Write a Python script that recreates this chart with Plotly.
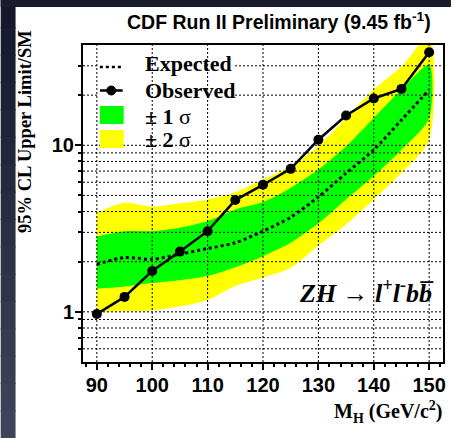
import math
import plotly.graph_objects as go

# ---------------- data ----------------
mass = [90, 95, 100, 105, 110, 115, 120, 125, 130, 135, 140, 145, 150]
observed = [0.97, 1.23, 1.76, 2.30, 3.05, 4.69, 5.79, 7.22, 10.8, 15.1, 19.1, 21.8, 36.2]
expected = [1.93, 2.12, 2.07, 2.22, 2.40, 2.60, 3.05, 3.70, 4.90, 6.80, 9.40, 14.2, 21.5]
sig1_up = [2.83, 3.05, 3.05, 3.20, 3.51, 4.12, 4.56, 5.56, 7.15, 9.87, 14.6, 21.6, 30.4]
sig1_dn = [1.38, 1.42, 1.49, 1.55, 1.64, 1.85, 2.16, 2.60, 3.40, 4.73, 6.53, 9.40, 14.6]
sig2_up = [3.94, 4.52, 4.28, 4.48, 4.73, 5.23, 6.23, 7.48, 9.90, 14.6, 21.6, 29.7, 45.0]
sig2_dn = [1.00, 1.01, 1.02, 1.08, 1.18, 1.43, 1.61, 1.84, 2.50, 3.35, 4.73, 6.84, 10.8]

x_ticks = [90, 100, 110, 120, 130, 140, 150]
y_ticks = [1, 10]
y_ticklabels = ["1", "10"]
y_minor = [0.6, 0.7, 0.8, 0.9, 2, 3, 4, 5, 6, 7, 8, 9, 20, 30]

# ---------------- geometry ----------------
W, H = 454, 438
L, R, T, B = 83, 8, 45, 76
PW, PH = W - L - R, H - T - B
XR = [87.5, 152.5]
YR = [math.log10(0.5), math.log10(40.0)]


def px(xp):
    return (xp - L) / PW


def py(yp):
    return (H - B - yp) / PH


def xfrac(v):
    return (v - XR[0]) / (XR[1] - XR[0])


def yfrac(v):
    return (math.log10(v) - YR[0]) / (YR[1] - YR[0])


SERIF = "Liberation Serif"
SANS = "Liberation Sans"

fig = go.Figure()

fig.add_trace(go.Scatter(
    x=mass + mass[::-1], y=sig2_up + sig2_dn[::-1],
    fill="toself", fillcolor="#ffff00", mode="lines",
    line=dict(width=0, shape="spline", smoothing=0.8),
    showlegend=False, hoverinfo="skip"))
fig.add_trace(go.Scatter(
    x=mass + mass[::-1], y=sig1_up + sig1_dn[::-1],
    fill="toself", fillcolor="#00ff00", mode="lines",
    line=dict(width=0, shape="spline", smoothing=0.8),
    showlegend=False, hoverinfo="skip"))
fig.add_trace(go.Scatter(
    x=mass, y=expected, mode="lines",
    line=dict(color="black", width=3, dash="dot", shape="spline", smoothing=0.8),
    showlegend=False))
fig.add_trace(go.Scatter(
    x=mass, y=observed, mode="lines+markers",
    line=dict(color="black", width=2.5),
    marker=dict(color="black", size=10, symbol="circle"),
    showlegend=False))

fig.update_xaxes(
    range=XR, tickvals=x_ticks, ticktext=[str(v) for v in x_ticks],
    ticks="outside", ticklen=6, tickwidth=1.5, tickcolor="black",
    tickfont=dict(family=SANS, size=20, color="black", weight="bold"),
    ticklabelstandoff=-2,
    showgrid=False,
    minor=dict(dtick=2, tick0=90, ticks="outside", ticklen=3, tickcolor="black", showgrid=False),
    showline=True, linecolor="black", linewidth=2, mirror=True, zeroline=False)
fig.update_yaxes(
    type="log", range=YR,
    tickvals=y_ticks, ticktext=y_ticklabels,
    ticks="outside", ticklen=6, tickwidth=1.5, tickcolor="black",
    tickfont=dict(family=SANS, size=20, color="black", weight="bold"),
    ticklabelstandoff=-3,
    showgrid=False,
    minor=dict(tickvals=y_minor, ticks="outside", ticklen=3, tickcolor="black", showgrid=False),
    showline=True, linecolor="black", linewidth=2, mirror=True, zeroline=False)

shapes = []
GRID = dict(color="black", width=1, dash="2px,2px")
# horizontal grid lines (drawn above the bands, like the original)
for v in y_ticks + y_minor:
    shapes.append(dict(type="line", xref="paper", yref="paper",
                       x0=0, x1=1, y0=yfrac(v), y1=yfrac(v), line=GRID, layer="above"))
# legend white box hides horizontal grid lines
shapes.append(dict(type="rect", xref="paper", yref="paper",
                   x0=px(98.5), x1=px(236), y0=py(47), y1=py(143),
                   fillcolor="white", line=dict(width=0), layer="above"))
# vertical grid lines
for v in x_ticks:
    shapes.append(dict(type="line", xref="paper", yref="paper",
                       x0=xfrac(v), x1=xfrac(v), y0=0, y1=1, line=GRID, layer="above"))

# dark frame strips (left gradient + top)
n = 16
c0 = (22, 23, 43)
c1 = (64, 68, 90)
for i in range(n):
    f = i / (n - 1)
    col = "rgb(%d,%d,%d)" % tuple(int(a + (b - a) * f) for a, b in zip(c0, c1))
    shapes.append(dict(type="rect", xref="paper", yref="paper",
                       x0=px(0), x1=px(15), y0=py(i * H / n), y1=py((i + 1) * H / n + 1),
                       fillcolor=col, line=dict(width=0), layer="above"))
shapes.append(dict(type="rect", xref="paper", yref="paper",
                   x0=px(0), x1=px(W), y0=py(0), y1=py(7),
                   fillcolor="rgb(26,27,45)", line=dict(width=0), layer="above"))

# legend symbols
shapes.append(dict(type="line", xref="paper", yref="paper",
                   x0=px(100), x1=px(124), y0=py(67), y1=py(67),
                   line=dict(color="black", width=2.5, dash="dot"), layer="above"))
shapes.append(dict(type="line", xref="paper", yref="paper",
                   x0=px(100), x1=px(123), y0=py(90.5), y1=py(90.5),
                   line=dict(color="black", width=2.5), layer="above"))
shapes.append(dict(type="circle", xref="paper", yref="paper",
                   x0=px(107), x1=px(116), y0=py(86), y1=py(95),
                   fillcolor="black", line=dict(color="black", width=1), layer="above"))
shapes.append(dict(type="rect", xref="paper", yref="paper",
                   x0=px(100), x1=px(124), y0=py(106), y1=py(124),
                   fillcolor="#00ff00", line=dict(width=0), layer="above"))
shapes.append(dict(type="rect", xref="paper", yref="paper",
                   x0=px(100), x1=px(124), y0=py(130), y1=py(148),
                   fillcolor="#ffff00", line=dict(width=0), layer="above"))

ann = []
legfont = dict(family=SERIF, size=22, color="black")
for txt, yc in [("<b>Expected</b>", 64), ("<b>Observed</b>", 90),
                ("<b>± 1</b> σ", 116), ("<b>± 2</b> σ", 139)]:
    ann.append(dict(text=txt, xref="paper", yref="paper", x=px(144), y=py(yc),
                    xanchor="left", yanchor="middle", showarrow=False, font=legfont))

ann.append(dict(text="<b>CDF Run II Preliminary (9.45 fb<sup>-1</sup>)</b>",
                xref="paper", yref="paper", x=px(281), y=py(21),
                xanchor="center", yanchor="middle", showarrow=False,
                font=dict(family=SANS, size=19.5, color="black")))
ann.append(dict(text="<b>95% CL Upper Limit/SM</b>",
                xref="paper", yref="paper", x=px(25), y=py(28),
                xanchor="center", yanchor="top", textangle=-90, showarrow=False,
                font=dict(family=SERIF, size=18.5, color="black")))
ann.append(dict(text="<b>M<sub>H</sub> (GeV/c<sup>2</sup>)</b>",
                xref="paper", yref="paper", x=px(447), y=py(412),
                xanchor="right", yanchor="middle", showarrow=False,
                font=dict(family=SERIF, size=20, color="black")))
ann.append(dict(text="<b><i>ZH → l<sup>+</sup>l<sup>-</sup>bb\u0305</i></b>",
                xref="paper", yref="paper", x=px(439), y=py(291),
                xanchor="right", yanchor="middle", showarrow=False,
                font=dict(family=SERIF, size=26, color="black")))

fig.update_layout(
    width=W, height=H,
    margin=dict(l=L, r=R, t=T, b=B),
    paper_bgcolor="white", plot_bgcolor="white",
    shapes=shapes, annotations=ann, showlegend=False)

fig.write_html("out.html")
